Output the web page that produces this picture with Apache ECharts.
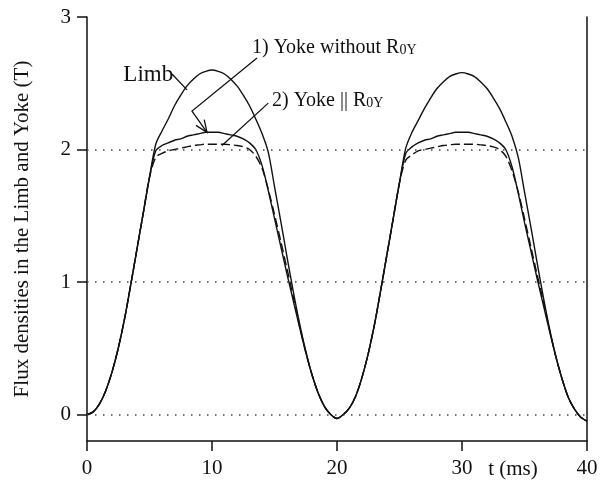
<!DOCTYPE html>
<html>
<head>
<meta charset="utf-8">
<title>Flux densities in the Limb and Yoke</title>
<script src="https://cdn.jsdelivr.net/npm/echarts@6/dist/echarts.min.js"></script>
<style>
  html, body { margin: 0; padding: 0; background: #ffffff; }
  #chart { width: 608px; height: 485px; }
</style>
</head>
<body>
<div id="chart"></div>
<script>
// Time base (ms), two 20 ms periods
const timeMs = [];
for (let i = 0; i <= 80; i++) timeMs.push(i * 0.5);

// Flux density in the limb (T)
const limbB = [
  0.00, 0.02, 0.08, 0.18, 0.32, 0.50, 0.72, 0.98, 1.25, 1.52, 1.79,
  2.04, 2.14, 2.23, 2.33, 2.41, 2.48, 2.53, 2.57, 2.59, 2.60,
  2.59, 2.57, 2.53, 2.48, 2.41, 2.33, 2.23, 2.12, 1.98, 1.72,
  1.46, 1.19, 0.93, 0.69, 0.48, 0.30, 0.16, 0.06, 0.00, -0.03,
  0.00, 0.05, 0.14, 0.28, 0.46, 0.68, 0.94, 1.21, 1.48, 1.75,
  2.01, 2.13, 2.22, 2.31, 2.39, 2.46, 2.51, 2.55, 2.57, 2.58,
  2.57, 2.55, 2.51, 2.46, 2.39, 2.31, 2.21, 2.10, 1.94, 1.68,
  1.42, 1.15, 0.89, 0.65, 0.44, 0.27, 0.13, 0.04, -0.02, -0.05
];

// 1) Yoke without R0Y (T)
const yokeNoR = [
  0.00, 0.02, 0.08, 0.18, 0.32, 0.50, 0.72, 0.98, 1.25, 1.52, 1.79,
  1.99, 2.03, 2.05, 2.07, 2.08, 2.10, 2.11, 2.12, 2.13, 2.13,
  2.13, 2.12, 2.11, 2.10, 2.08, 2.05, 2.00, 1.88, 1.69, 1.48,
  1.27, 1.06, 0.86, 0.66, 0.47, 0.30, 0.16, 0.06, 0.00, -0.03,
  0.00, 0.05, 0.14, 0.28, 0.46, 0.68, 0.94, 1.21, 1.48, 1.75,
  1.97, 2.02, 2.05, 2.07, 2.08, 2.10, 2.11, 2.12, 2.13, 2.13,
  2.13, 2.12, 2.11, 2.10, 2.08, 2.05, 2.00, 1.87, 1.67, 1.45,
  1.24, 1.03, 0.83, 0.63, 0.44, 0.27, 0.13, 0.04, -0.02, -0.05
];

// 2) Yoke || R0Y (T)
const yokeParR = [
  0.00, 0.02, 0.08, 0.18, 0.32, 0.50, 0.72, 0.98, 1.25, 1.52, 1.79,
  1.94, 1.97, 1.99, 2.00, 2.01, 2.02, 2.03, 2.035, 2.04, 2.04,
  2.04, 2.04, 2.035, 2.03, 2.02, 2.00, 1.95, 1.86, 1.70, 1.51,
  1.31, 1.10, 0.89, 0.67, 0.47, 0.30, 0.16, 0.06, 0.00, -0.03,
  0.00, 0.05, 0.14, 0.28, 0.46, 0.68, 0.94, 1.21, 1.48, 1.75,
  1.92, 1.96, 1.99, 2.00, 2.01, 2.02, 2.03, 2.035, 2.04, 2.04,
  2.04, 2.04, 2.035, 2.03, 2.02, 2.00, 1.95, 1.84, 1.68, 1.48,
  1.27, 1.06, 0.86, 0.64, 0.44, 0.27, 0.13, 0.04, -0.02, -0.05
];

// Axis ticks
const xTicks = [0, 10, 20, 30, 40];
const yTicks = [0, 1, 2, 3];
const dottedLevels = [0, 1, 2];

// Annotation anchors in data units [t, B]
const limbLabelAt = [4.9, 2.56];
const limbLeader = [[6.8, 2.57], [8.0, 2.45]];
const yoke1LabelAt = [13.2, 2.77];
const yoke1Arrow = [[13.6, 2.69], [8.4, 2.29], [9.6, 2.13]];
const yoke2LabelAt = [14.8, 2.37];
const yoke2Leader = [[14.5, 2.35], [10.8, 2.03]];

const FONT = '"Liberation Serif", "Times New Roman", serif';
const INK = '#111111';

function pairs(ys) { return timeMs.map((t, i) => [t, ys[i]]); }

const chart = echarts.init(document.getElementById('chart'), null, { renderer: 'canvas' });

chart.setOption({
  animation: false,
  backgroundColor: '#ffffff',
  grid: { left: 87, right: 21, top: 17, bottom: 44, containLabel: false, outerBoundsMode: 'none' },
  xAxis: {
    type: 'value',
    min: 0, max: 40, interval: 10,
    name: 't (ms)',
    nameLocation: 'end',
    nameGap: -74,
    nameTextStyle: { fontFamily: FONT, fontSize: 21, color: INK, align: 'center', verticalAlign: 'top', padding: [18, 0, 0, 0] },
    axisLine: { onZero: false, lineStyle: { color: INK, width: 1.5 } },
    axisTick: { show: true, inside: false, length: 10, lineStyle: { color: INK, width: 1.5 } },
    axisLabel: { margin: 17, fontFamily: FONT, fontSize: 21, color: INK, customValues: xTicks },
    splitLine: { show: false }
  },
  yAxis: [{
    type: 'value',
    min: -0.2, max: 3,
    name: 'Flux densities in the Limb and Yoke (T)',
    nameLocation: 'middle',
    nameGap: 54,
    nameTextStyle: { fontFamily: FONT, fontSize: 21, color: INK },
    axisLine: { show: true, onZero: false, lineStyle: { color: INK, width: 1.5 } },
    axisTick: { show: true, inside: false, length: 10, customValues: yTicks, lineStyle: { color: INK, width: 1.5 } },
    axisLabel: { margin: 16, fontFamily: FONT, fontSize: 21, color: INK, customValues: yTicks },
    splitLine: { show: false }
  }, {
    type: 'value',
    position: 'right',
    min: -0.2, max: 3,
    axisLine: { show: true, onZero: false, lineStyle: { color: INK, width: 1.5 } },
    axisTick: { show: false },
    axisLabel: { show: false },
    splitLine: { show: false }
  }],
  series: [
    {
      name: 'Limb',
      type: 'line',
      data: pairs(limbB),
      showSymbol: false,
      smooth: 0.3,
      lineStyle: { color: INK, width: 1.4 },
      z: 3,
      markLine: {
        silent: true,
        symbol: 'none',
        label: { show: false },
        lineStyle: { color: '#444444', type: [1.5, 6.5], width: 1.5 },
        data: dottedLevels.map(v => ({ yAxis: v }))
      }
    },
    {
      name: '1) Yoke without R0Y',
      type: 'line',
      data: pairs(yokeNoR),
      showSymbol: false,
      smooth: 0.3,
      lineStyle: { color: INK, width: 1.4 },
      z: 3
    },
    {
      name: '2) Yoke || R0Y',
      type: 'line',
      data: pairs(yokeParR),
      showSymbol: false,
      smooth: 0.3,
      lineStyle: { color: INK, width: 1.4, type: [9, 4] },
      z: 3
    }
  ]
});

// Labels and leader lines placed from data coordinates
function px(p) { return chart.convertToPixel({ gridIndex: 0 }, p); }

function leader(points) {
  return { type: 'polyline', silent: true, z: 10, shape: { points: points.map(px) }, style: { stroke: INK, lineWidth: 1.3, fill: null } };
}

function arrowHead(from, to) {
  const a = px(from), b = px(to);
  const ang = Math.atan2(b[1] - a[1], b[0] - a[0]);
  const len = 13, spread = 0.4;
  const p1 = [b[0] - len * Math.cos(ang - spread), b[1] - len * Math.sin(ang - spread)];
  const p2 = [b[0] - len * Math.cos(ang + spread), b[1] - len * Math.sin(ang + spread)];
  return { type: 'polyline', silent: true, z: 10, shape: { points: [p1, b, p2] }, style: { stroke: INK, lineWidth: 1.3, fill: null } };
}

function label(at, text, align, size) {
  const p = px(at);
  return {
    type: 'text', silent: true, z: 10, x: p[0], y: p[1],
    style: {
      text: text, fill: INK, fontFamily: FONT, fontSize: size,
      align: align, verticalAlign: 'middle',
      rich: { s: { fontFamily: FONT, fontSize: 14, fill: INK, verticalAlign: 'bottom', padding: [4, 0, 0, 0] } }
    }
  };
}

chart.setOption({
  graphic: [
    label(limbLabelAt, 'Limb', 'center', 23),
    leader(limbLeader),
    label(yoke1LabelAt, '1) Yoke without R{s|0Y}', 'left', 20),
    leader(yoke1Arrow),
    arrowHead(yoke1Arrow[1], yoke1Arrow[2]),
    label(yoke2LabelAt, '2) Yoke || R{s|0Y}', 'left', 20),
    leader(yoke2Leader)
  ]
});
</script>
</body>
</html>
